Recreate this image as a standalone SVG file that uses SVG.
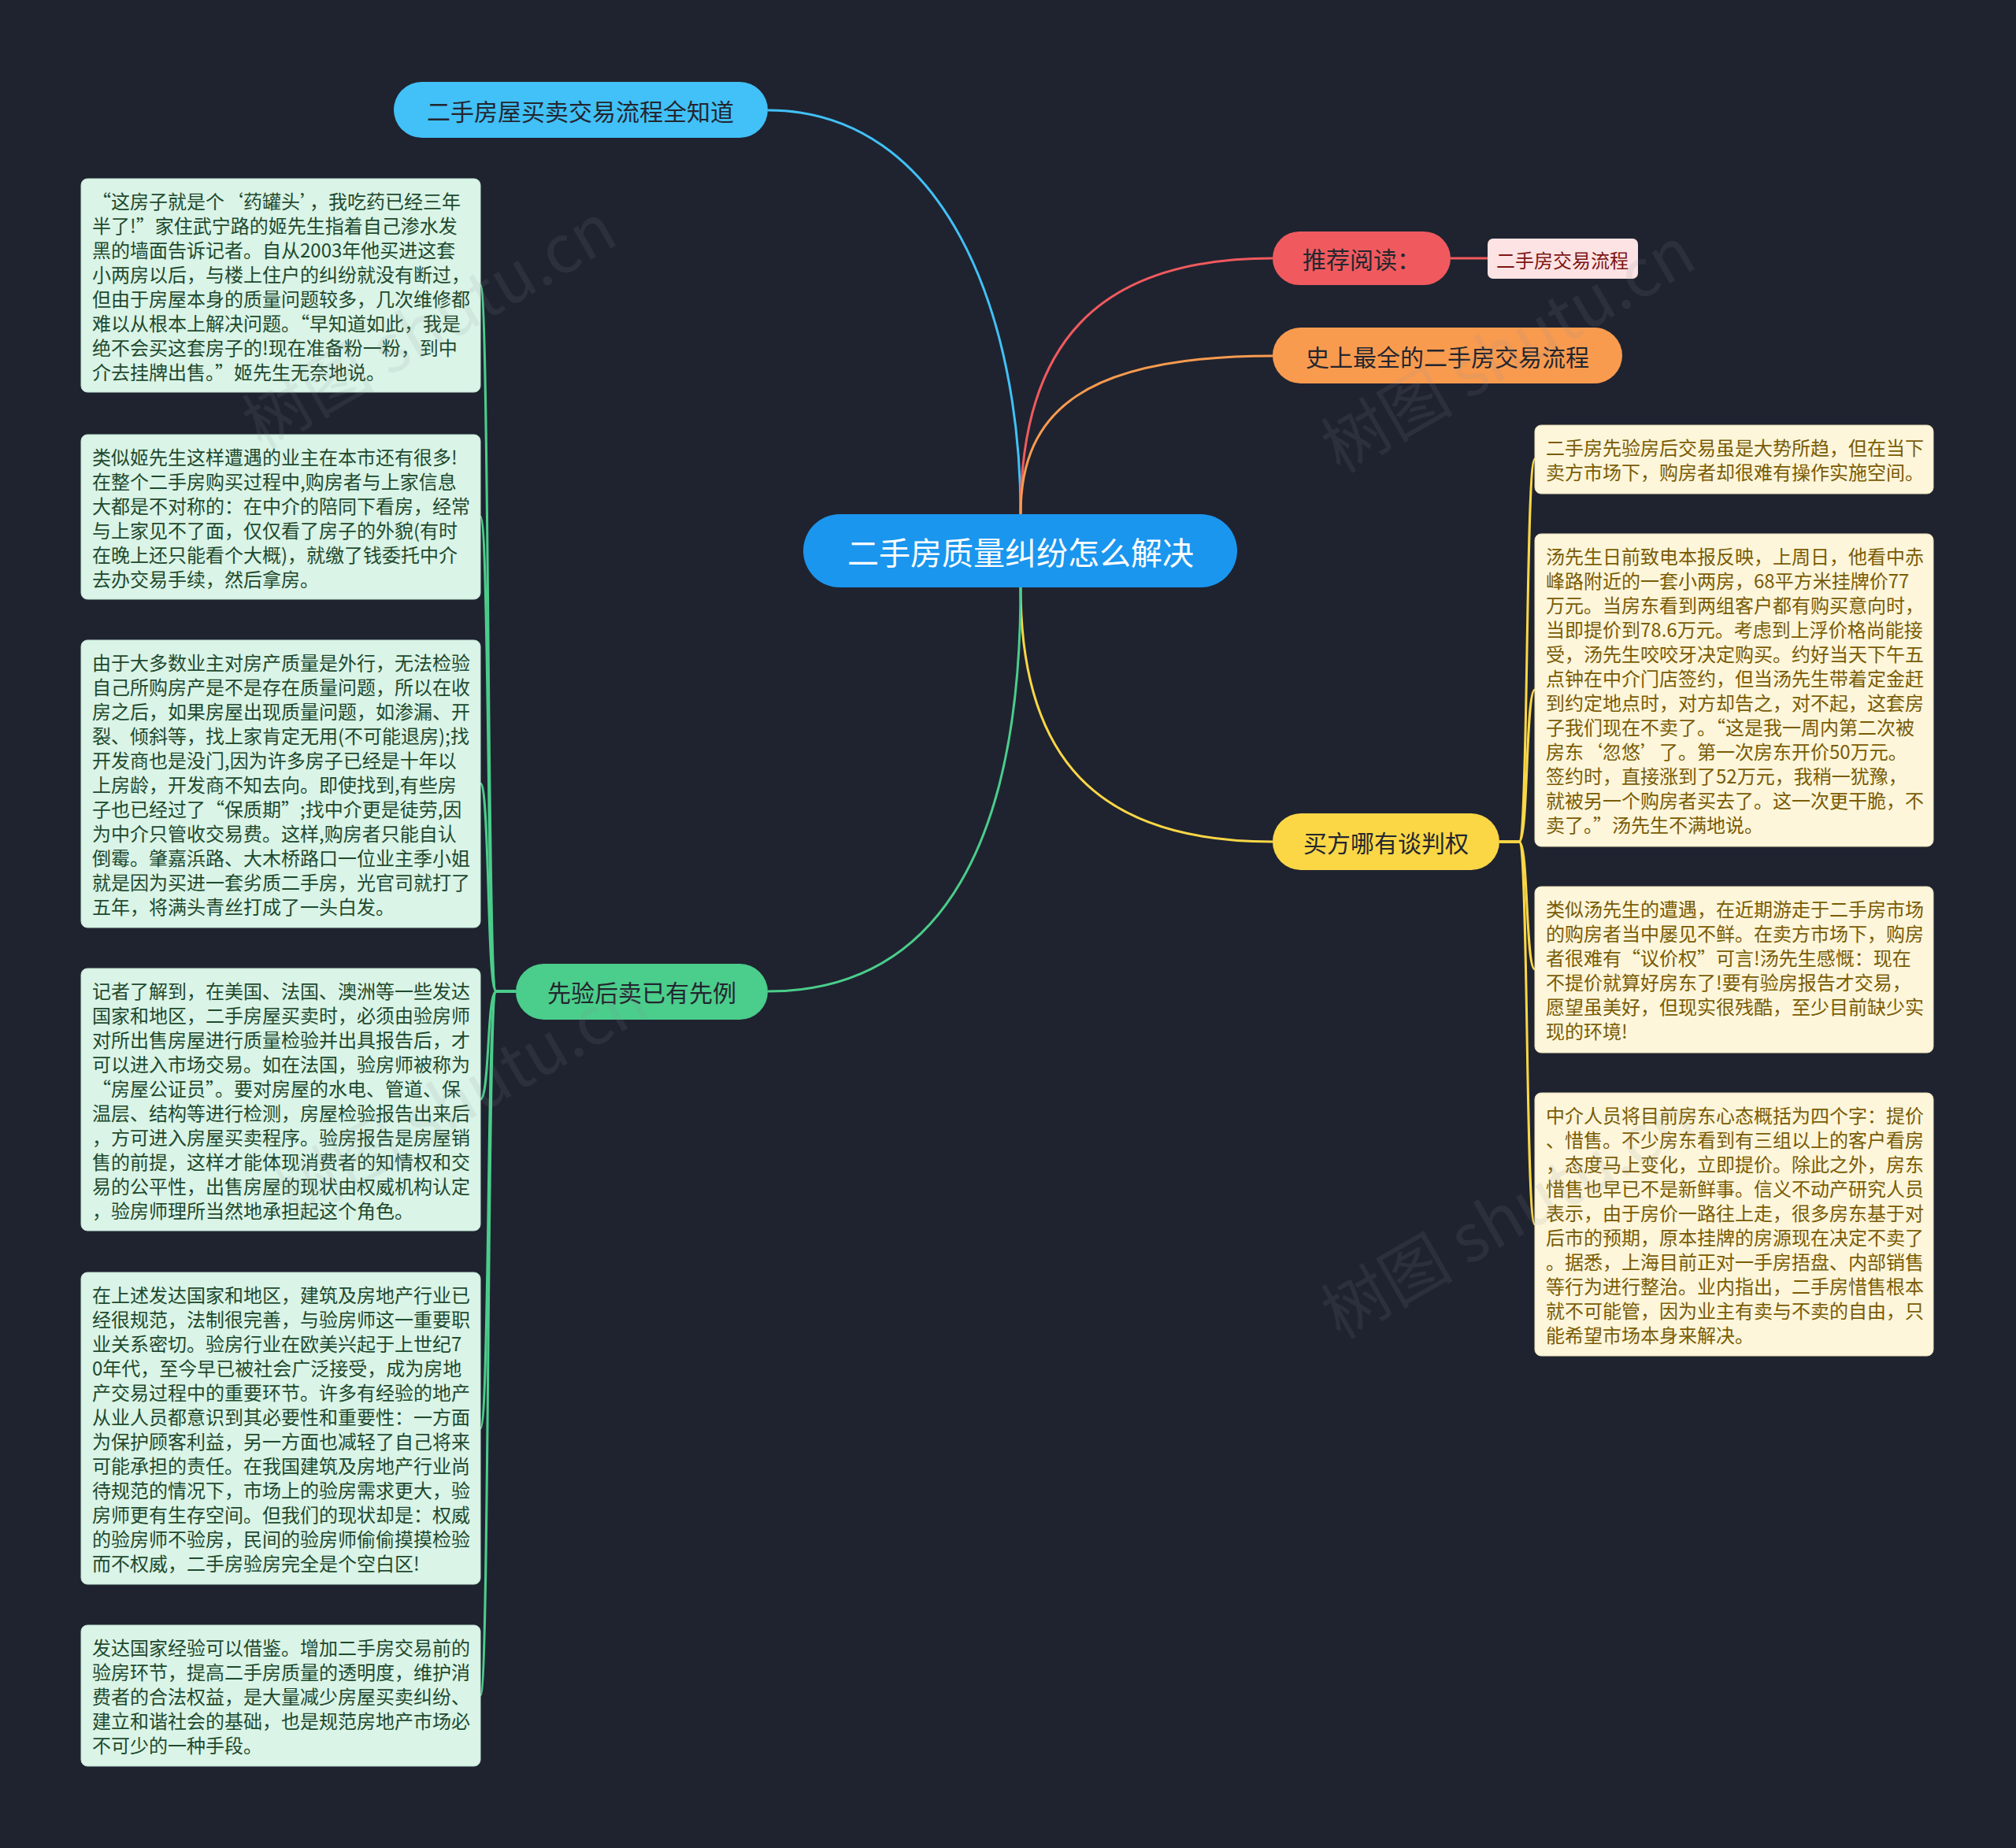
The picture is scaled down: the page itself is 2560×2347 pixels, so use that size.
<svg xmlns="http://www.w3.org/2000/svg" width="2560" height="2347" viewBox="0 0 2560 2347">
<style>
.t{font-family:"Noto Sans CJK SC","Noto Sans",sans-serif}
.lt{font-size:24px;fill:#1e4a2e}
.rt{font-size:24px;fill:#7a5c05}
.lbox{fill:#daf4e7;stroke:#c2e6d3;stroke-width:1}
.rbox{fill:#fdf6db;stroke:#eadfb8;stroke-width:1}
.nt{font-size:30px;fill:#23262f;text-anchor:middle;dominant-baseline:central}
.c{fill:none;stroke-width:3}
.wm{font-family:"Noto Sans CJK SC","Noto Sans",sans-serif;font-size:84px;fill:#8a8f99;opacity:0.12}
</style>
<rect width="2560" height="2347" fill="#1f2330"/>
<g id="connectors">
<path class="c" stroke="#41c1f7" d="M975,140 C1200,140 1296,400 1296,653"/>
<path class="c" stroke="#f05a5e" d="M1296,653 C1296,440 1390,328 1616,328"/>
<path class="c" stroke="#f99b4f" d="M1296,653 C1296,520 1380,452 1616,452"/>
<path class="c" stroke="#fbd746" d="M1296,746 C1296,960 1390,1069 1616,1069"/>
<path class="c" stroke="#4bcd8b" d="M1296,746 C1296,1060 1200,1259 975,1259"/>
<path class="c" stroke="#f05a5e" d="M1842,328 L1889,328"/>
<g stroke="#4bcd8b" class="c" fill="none">
<path d="M655,1259 L630,1259 C618,1259 622,362 610,362"/>
<path d="M655,1259 L630,1259 C618,1259 622,656 610,656"/>
<path d="M655,1259 L630,1259 C618,1259 622,995 610,995"/>
<path d="M655,1259 L630,1259 C618,1259 622,1396 610,1396"/>
<path d="M655,1259 L630,1259 C618,1259 622,1814 610,1814"/>
<path d="M655,1259 L630,1259 C618,1259 622,2153 610,2153"/>
</g>
<g stroke="#fbd746" class="c" fill="none">
<path d="M1904,1069 L1929,1069 C1941,1069 1937,583 1949,583"/>
<path d="M1904,1069 L1929,1069 C1941,1069 1937,876 1949,876"/>
<path d="M1904,1069 L1929,1069 C1941,1069 1937,1231 1949,1231"/>
<path d="M1904,1069 L1929,1069 C1941,1069 1937,1555 1949,1555"/>
</g>
</g>
<g id="center">
<rect x="1020" y="653" width="551" height="93" rx="46.5" fill="#1a96ee"/>
<text class="t" x="1296" y="700" font-size="40" fill="#ffffff" text-anchor="middle" dominant-baseline="central">二手房质量纠纷怎么解决</text>
</g>
<g id="n-flow">
<rect x="500" y="104" width="475" height="71" rx="35.5" fill="#41c1f7"/>
<text class="t nt" x="737" y="140">二手房屋买卖交易流程全知道</text>
</g>
<g id="n-recommend">
<rect x="1616" y="294" width="226" height="68" rx="34" fill="#f05a5e"/>
<text class="t nt" x="1729" y="328">推荐阅读：</text>
</g>
<g id="n-recommend-link">
<rect x="1889" y="303" width="191" height="51" rx="7" fill="#fde3e3"/>
<text class="t" x="1984" y="329" font-size="24" fill="#7d1414" text-anchor="middle" dominant-baseline="central">二手房交易流程</text>
</g>
<g id="n-full">
<rect x="1616" y="416" width="444" height="71" rx="35.5" fill="#f99b4f"/>
<text class="t nt" x="1838" y="452">史上最全的二手房交易流程</text>
</g>
<g id="n-buyer">
<rect x="1616" y="1033" width="288" height="72" rx="36" fill="#fbd746"/>
<text class="t nt" x="1760" y="1069">买方哪有谈判权</text>
</g>
<g id="n-precedent">
<rect x="655" y="1224" width="320" height="71" rx="35.5" fill="#4bcd8b"/>
<text class="t nt" x="815" y="1259">先验后卖已有先例</text>
</g>
<g id="l1">
<rect class="lbox" x="103" y="227" width="507" height="271" rx="8"/>
<text class="t lt" x="117" y="265"><tspan x="117">“这房子就是个‘药罐头’，我吃药已经三年</tspan><tspan x="117" dy="31">半了!”家住武宁路的姬先生指着自己渗水发</tspan><tspan x="117" dy="31">黑的墙面告诉记者。自从2003年他买进这套</tspan><tspan x="117" dy="31">小两房以后，与楼上住户的纠纷就没有断过，</tspan><tspan x="117" dy="31">但由于房屋本身的质量问题较多，几次维修都</tspan><tspan x="117" dy="31">难以从根本上解决问题。“早知道如此，我是</tspan><tspan x="117" dy="31">绝不会买这套房子的!现在准备粉一粉，到中</tspan><tspan x="117" dy="31">介去挂牌出售。”姬先生无奈地说。</tspan></text>
</g>
<g id="l2">
<rect class="lbox" x="103" y="552" width="507" height="209" rx="8"/>
<text class="t lt" x="117" y="590"><tspan x="117">类似姬先生这样遭遇的业主在本市还有很多!</tspan><tspan x="117" dy="31">在整个二手房购买过程中,购房者与上家信息</tspan><tspan x="117" dy="31">大都是不对称的：在中介的陪同下看房，经常</tspan><tspan x="117" dy="31">与上家见不了面，仅仅看了房子的外貌(有时</tspan><tspan x="117" dy="31">在晚上还只能看个大概)，就缴了钱委托中介</tspan><tspan x="117" dy="31">去办交易手续，然后拿房。</tspan></text>
</g>
<g id="l3">
<rect class="lbox" x="103" y="813" width="507" height="365" rx="8"/>
<text class="t lt" x="117" y="851"><tspan x="117">由于大多数业主对房产质量是外行，无法检验</tspan><tspan x="117" dy="31">自己所购房产是不是存在质量问题，所以在收</tspan><tspan x="117" dy="31">房之后，如果房屋出现质量问题，如渗漏、开</tspan><tspan x="117" dy="31">裂、倾斜等，找上家肯定无用(不可能退房);找</tspan><tspan x="117" dy="31">开发商也是没门,因为许多房子已经是十年以</tspan><tspan x="117" dy="31">上房龄，开发商不知去向。即使找到,有些房</tspan><tspan x="117" dy="31">子也已经过了“保质期”;找中介更是徒劳,因</tspan><tspan x="117" dy="31">为中介只管收交易费。这样,购房者只能自认</tspan><tspan x="117" dy="31">倒霉。肇嘉浜路、大木桥路口一位业主季小姐</tspan><tspan x="117" dy="31">就是因为买进一套劣质二手房，光官司就打了</tspan><tspan x="117" dy="31">五年，将满头青丝打成了一头白发。</tspan></text>
</g>
<g id="l4">
<rect class="lbox" x="103" y="1230" width="507" height="333" rx="8"/>
<text class="t lt" x="117" y="1268"><tspan x="117">记者了解到，在美国、法国、澳洲等一些发达</tspan><tspan x="117" dy="31">国家和地区，二手房屋买卖时，必须由验房师</tspan><tspan x="117" dy="31">对所出售房屋进行质量检验并出具报告后，才</tspan><tspan x="117" dy="31">可以进入市场交易。如在法国，验房师被称为</tspan><tspan x="117" dy="31">“房屋公证员”。要对房屋的水电、管道、保</tspan><tspan x="117" dy="31">温层、结构等进行检测，房屋检验报告出来后</tspan><tspan x="117" dy="31">，方可进入房屋买卖程序。验房报告是房屋销</tspan><tspan x="117" dy="31">售的前提，这样才能体现消费者的知情权和交</tspan><tspan x="117" dy="31">易的公平性，出售房屋的现状由权威机构认定</tspan><tspan x="117" dy="31">，验房师理所当然地承担起这个角色。</tspan></text>
</g>
<g id="l5">
<rect class="lbox" x="103" y="1616" width="507" height="396" rx="8"/>
<text class="t lt" x="117" y="1654"><tspan x="117">在上述发达国家和地区，建筑及房地产行业已</tspan><tspan x="117" dy="31">经很规范，法制很完善，与验房师这一重要职</tspan><tspan x="117" dy="31">业关系密切。验房行业在欧美兴起于上世纪7</tspan><tspan x="117" dy="31">0年代，至今早已被社会广泛接受，成为房地</tspan><tspan x="117" dy="31">产交易过程中的重要环节。许多有经验的地产</tspan><tspan x="117" dy="31">从业人员都意识到其必要性和重要性：一方面</tspan><tspan x="117" dy="31">为保护顾客利益，另一方面也减轻了自己将来</tspan><tspan x="117" dy="31">可能承担的责任。在我国建筑及房地产行业尚</tspan><tspan x="117" dy="31">待规范的情况下，市场上的验房需求更大，验</tspan><tspan x="117" dy="31">房师更有生存空间。但我们的现状却是：权威</tspan><tspan x="117" dy="31">的验房师不验房，民间的验房师偷偷摸摸检验</tspan><tspan x="117" dy="31">而不权威，二手房验房完全是个空白区!</tspan></text>
</g>
<g id="l6">
<rect class="lbox" x="103" y="2064" width="507" height="179" rx="8"/>
<text class="t lt" x="117" y="2102"><tspan x="117">发达国家经验可以借鉴。增加二手房交易前的</tspan><tspan x="117" dy="31">验房环节，提高二手房质量的透明度，维护消</tspan><tspan x="117" dy="31">费者的合法权益，是大量减少房屋买卖纠纷、</tspan><tspan x="117" dy="31">建立和谐社会的基础，也是规范房地产市场必</tspan><tspan x="117" dy="31">不可少的一种手段。</tspan></text>
</g>
<g id="r1">
<rect class="rbox" x="1949" y="540" width="506" height="87" rx="8"/>
<text class="t rt" x="1963" y="578"><tspan x="1963">二手房先验房后交易虽是大势所趋，但在当下</tspan><tspan x="1963" dy="31">卖方市场下，购房者却很难有操作实施空间。</tspan></text>
</g>
<g id="r2">
<rect class="rbox" x="1949" y="678" width="506" height="397" rx="8"/>
<text class="t rt" x="1963" y="716"><tspan x="1963">汤先生日前致电本报反映，上周日，他看中赤</tspan><tspan x="1963" dy="31">峰路附近的一套小两房，68平方米挂牌价77</tspan><tspan x="1963" dy="31">万元。当房东看到两组客户都有购买意向时，</tspan><tspan x="1963" dy="31">当即提价到78.6万元。考虑到上浮价格尚能接</tspan><tspan x="1963" dy="31">受，汤先生咬咬牙决定购买。约好当天下午五</tspan><tspan x="1963" dy="31">点钟在中介门店签约，但当汤先生带着定金赶</tspan><tspan x="1963" dy="31">到约定地点时，对方却告之，对不起，这套房</tspan><tspan x="1963" dy="31">子我们现在不卖了。“这是我一周内第二次被</tspan><tspan x="1963" dy="31">房东‘忽悠’了。第一次房东开价50万元。</tspan><tspan x="1963" dy="31">签约时，直接涨到了52万元，我稍一犹豫，</tspan><tspan x="1963" dy="31">就被另一个购房者买去了。这一次更干脆，不</tspan><tspan x="1963" dy="31">卖了。”汤先生不满地说。</tspan></text>
</g>
<g id="r3">
<rect class="rbox" x="1949" y="1126" width="506" height="211" rx="8"/>
<text class="t rt" x="1963" y="1164"><tspan x="1963">类似汤先生的遭遇，在近期游走于二手房市场</tspan><tspan x="1963" dy="31">的购房者当中屡见不鲜。在卖方市场下，购房</tspan><tspan x="1963" dy="31">者很难有“议价权”可言!汤先生感慨：现在</tspan><tspan x="1963" dy="31">不提价就算好房东了!要有验房报告才交易，</tspan><tspan x="1963" dy="31">愿望虽美好，但现实很残酷，至少目前缺少实</tspan><tspan x="1963" dy="31">现的环境!</tspan></text>
</g>
<g id="r4">
<rect class="rbox" x="1949" y="1388" width="506" height="334" rx="8"/>
<text class="t rt" x="1963" y="1426"><tspan x="1963">中介人员将目前房东心态概括为四个字：提价</tspan><tspan x="1963" dy="31">、惜售。不少房东看到有三组以上的客户看房</tspan><tspan x="1963" dy="31">，态度马上变化，立即提价。除此之外，房东</tspan><tspan x="1963" dy="31">惜售也早已不是新鲜事。信义不动产研究人员</tspan><tspan x="1963" dy="31">表示，由于房价一路往上走，很多房东基于对</tspan><tspan x="1963" dy="31">后市的预期，原本挂牌的房源现在决定不卖了</tspan><tspan x="1963" dy="31">。据悉，上海目前正对一手房捂盘、内部销售</tspan><tspan x="1963" dy="31">等行为进行整治。业内指出，二手房惜售根本</tspan><tspan x="1963" dy="31">就不可能管，因为业主有卖与不卖的自由，只</tspan><tspan x="1963" dy="31">能希望市场本身来解决。</tspan></text>
</g>
<g id="watermarks">
<text class="wm" transform="translate(560,440) rotate(-30)" text-anchor="middle">树图 shutu.cn</text>
<text class="wm" transform="translate(1930,470) rotate(-30)" text-anchor="middle">树图 shutu.cn</text>
<text class="wm" transform="translate(600,1420) rotate(-30)" text-anchor="middle">树图 shutu.cn</text>
<text class="wm" transform="translate(1930,1570) rotate(-30)" text-anchor="middle">树图 shutu.cn</text>
</g>
</svg>
